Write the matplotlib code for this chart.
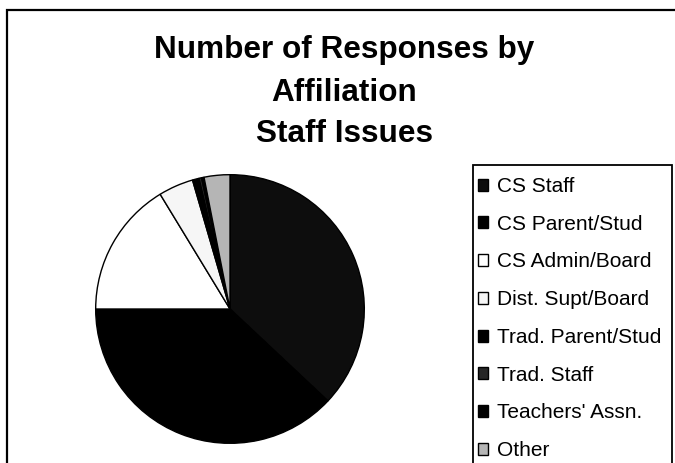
import matplotlib
matplotlib.use("Agg")
import matplotlib.pyplot as plt
from matplotlib.patches import Rectangle

# share of responses by affiliation (percent)
labels = ["CS Staff", "CS Parent/Stud", "CS Admin/Board", "Dist. Supt/Board",
          "Trad. Parent/Stud", "Trad. Staff", "Teachers' Assn.", "Other"]
shares = [37.0, 38.0, 16.3, 4.2, 0.8, 0.3, 0.3, 3.1]
colors = ["#0d0d0d", "#000000", "#ffffff", "#f6f6f6",
          "#000000", "#262626", "#000000", "#b5b5b5"]

title_lines = ["Number of Responses by", "Affiliation", "Staff Issues"]

W, H = 675, 463
fig = plt.figure(figsize=(W / 100, H / 100), dpi=100)
fig.patch.set_facecolor("white")

# pie axes: centre ~ (230, 309) px, radius ~137 px
cx, cy, r = 230, 309, 137
ax = fig.add_axes([(cx - r) / W, (H - cy - r) / H, 2 * r / W, 2 * r / H])
wedges, _ = ax.pie(shares, colors=colors, startangle=90, counterclock=False,
                   radius=1.0,
                   wedgeprops=dict(edgecolor="black", linewidth=1.0))
ax.set_xlim(-1.02, 1.02)
ax.set_ylim(-1.02, 1.02)
ax.set_aspect("equal")
ax.axis("off")

# title, three centred lines
baselines = [58, 101, 142]
for line, yb in zip(title_lines, baselines):
    fig.text(344 / W, 1 - yb / H, line, ha="center", va="baseline",
             fontsize=22.7, fontweight="bold", family="Liberation Sans")

# legend without its own frame, frame drawn below so it runs off the page
leg = fig.legend(wedges, labels, loc="upper left",
                 bbox_to_anchor=(478 / W, 1 - 177 / H),
                 frameon=False, borderpad=0, borderaxespad=0,
                 handlelength=0.5, handleheight=0.5, handletextpad=0.4,
                 labelspacing=0.9,
                 prop={"family": "Liberation Sans", "size": 15})

fig.add_artist(Rectangle((473 / W, -0.1), (672 - 473) / W, 0.1 + 1 - 165 / H,
                         transform=fig.transFigure, fill=False,
                         edgecolor="black", linewidth=1.3, clip_on=False))

# outer chart border (top and left visible)
fig.add_artist(Rectangle((7 / W, -0.1), 1.2, 0.1 + 1 - 10 / H,
                         transform=fig.transFigure, fill=False,
                         edgecolor="black", linewidth=1.6, clip_on=False))

fig.savefig("out.png", dpi=100)
